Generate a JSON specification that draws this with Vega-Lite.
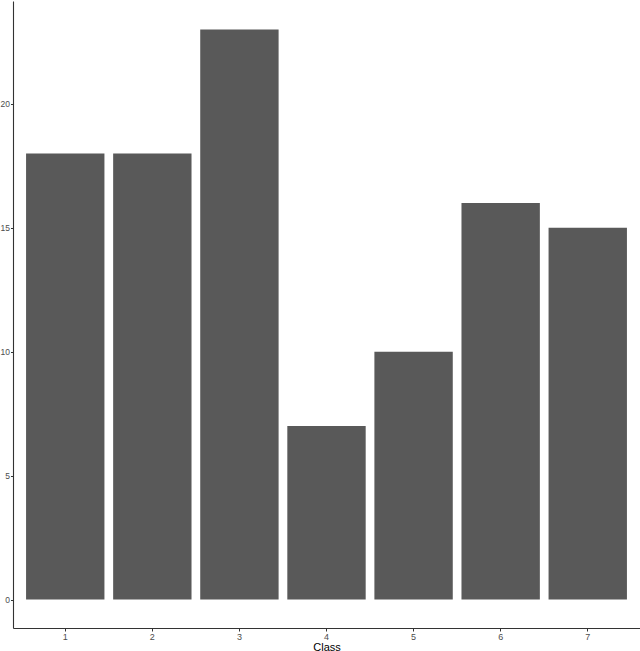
{
  "$schema": "https://vega.github.io/schema/vega-lite/v6.json",
  "autosize": "none",
  "width": 627,
  "height": 627,
  "padding": {"left": 13, "top": 1, "right": 0, "bottom": 23},
  "background": "white",
  "data": {"values": [
    {"Class": "1", "count": 18},
    {"Class": "2", "count": 18},
    {"Class": "3", "count": 23},
    {"Class": "4", "count": 7},
    {"Class": "5", "count": 10},
    {"Class": "6", "count": 16},
    {"Class": "7", "count": 15}
  ]},
  "mark": {"type": "bar", "color": "#595959"},
  "encoding": {
    "x": {"field": "Class", "type": "nominal", "sort": null,
      "scale": {"paddingInner": 0.1, "paddingOuter": 0.15},
      "axis": {"title": "Class", "labelAngle": 0, "labelFont": "Liberation Sans", "labelFontSize": 9, "labelColor": "#4d4d4d",
        "titleFont": "Liberation Sans", "titleFontSize": 11, "titleFontWeight": "normal", "titleColor": "black", "titlePadding": 0,
        "domainColor": "#333333", "domainWidth": 1.1, "tickColor": "#333333", "tickSize": 3, "labelPadding": 1, "grid": false}},
    "y": {"field": "count", "type": "quantitative",
      "scale": {"domain": [-1.15, 24.15], "nice": false, "zero": false},
      "axis": {"title": null, "values": [0, 5, 10, 15, 20], "labelFont": "Liberation Sans", "labelFontSize": 8.5, "labelColor": "#4d4d4d",
        "domainColor": "#333333", "domainWidth": 1.1, "tickColor": "#333333", "tickSize": 2.5, "labelPadding": 1, "grid": false}},
    "y2": {"datum": 0}
  },
  "config": {"view": {"stroke": null}}
}
